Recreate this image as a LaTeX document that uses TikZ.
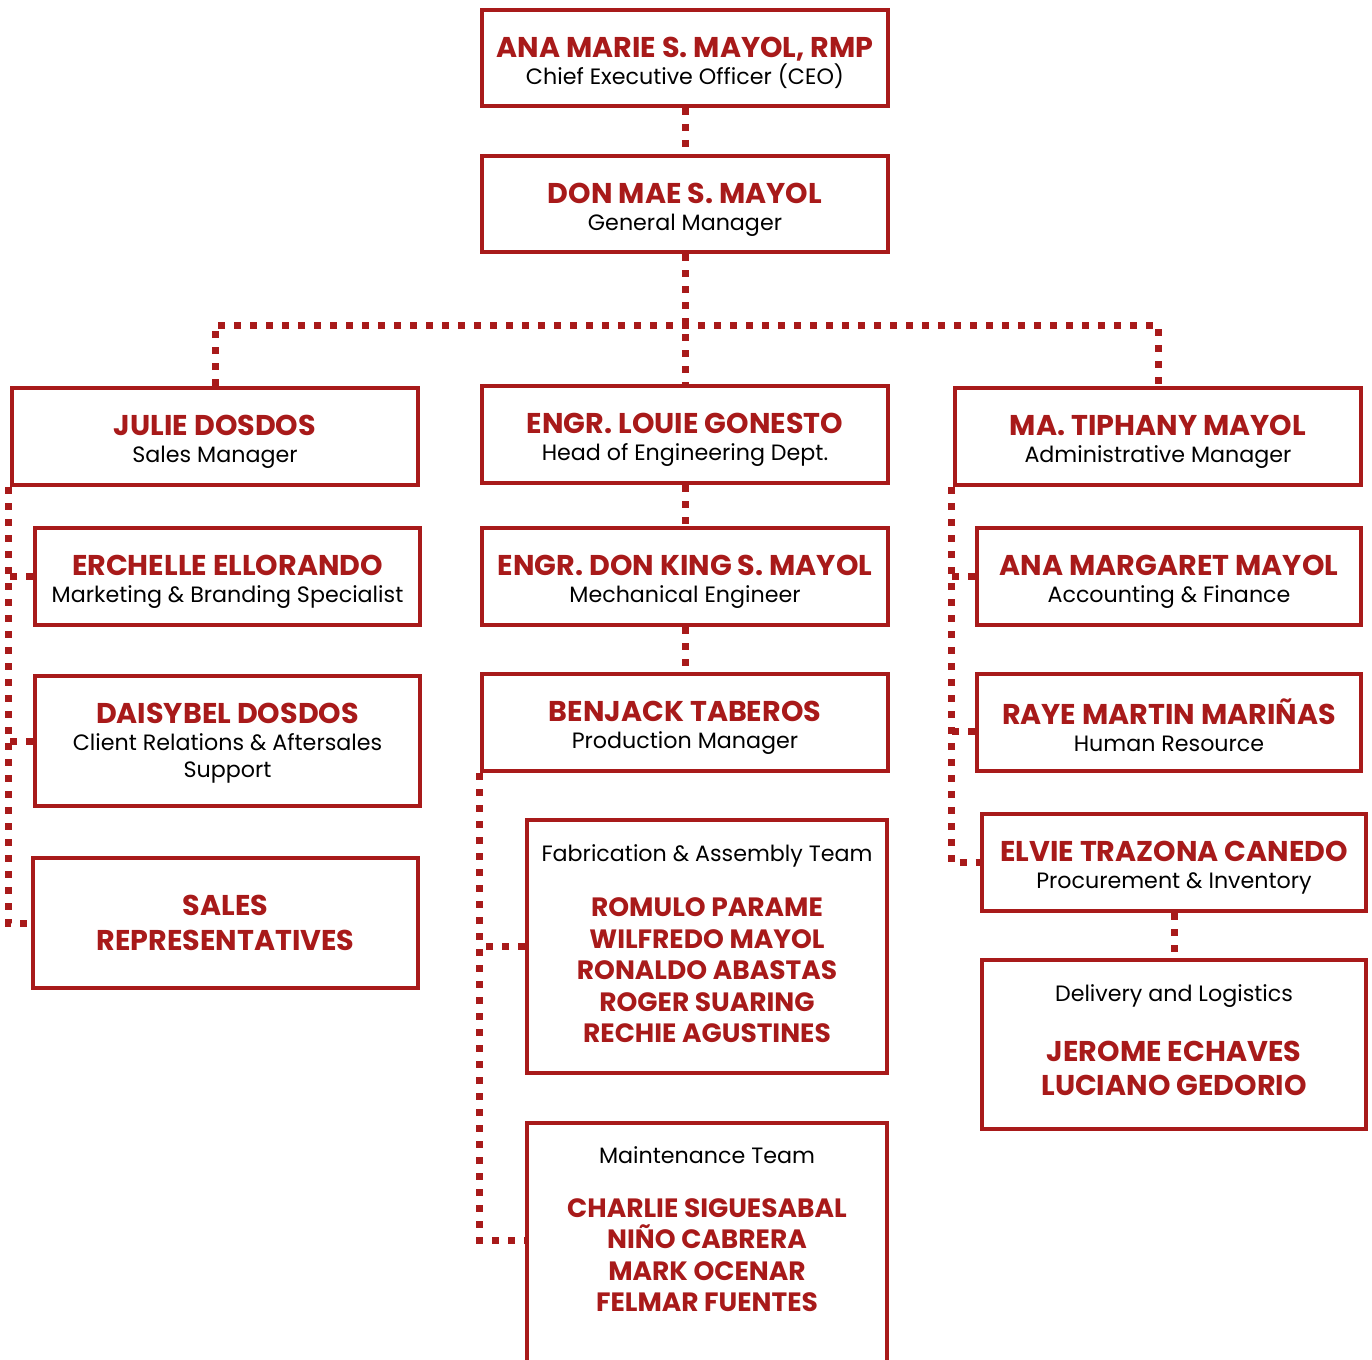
\documentclass[tikz,border=0pt]{standalone}
\usepackage{fontspec}
\setmainfont{Poppins}
\usetikzlibrary{positioning}
\definecolor{maroon}{RGB}{168,26,26}

\newcommand{\namefont}{\fontsize{28.6}{27}\selectfont\bfseries\color{maroon}}
\newcommand{\teamfont}{\fontsize{26.5}{27}\selectfont\bfseries\color{maroon}}
\newcommand{\rolefont}{\fontsize{22.2}{27}\selectfont}
\newcommand{\who}[2]{{\rule{0pt}{31pt}\namefont #1}\\{#2}}

\begin{document}
\begin{tikzpicture}[x=1pt,y=-1pt,
        box/.style={draw=maroon,line width=4pt,align=center,inner sep=0pt,
                    font=\rolefont,minimum width=406pt,minimum height=97pt},
        subbox/.style={box,minimum width=385pt},
        link/.style={draw=maroon,line width=7pt,dash pattern=on 7pt off 9pt}]

  \useasboundingbox (0,0) rectangle (1372,1359);
  \clip (0,0) rectangle (1372,1359);

  % top of the chart
  \node[box,minimum height=96pt] (ceo) at (685,58) {\who{ANA MARIE S. MAYOL, RMP}{Chief Executive Officer (CEO)}};
  \node[box,minimum height=96pt] (gm) at (685,204) {\who{DON MAE S. MAYOL}{General Manager}};

  % department heads
  \node[box] (sales) at (215,436.5) {\who{JULIE DOSDOS}{Sales Manager}};
  \node[box] (eng) at (685,434.5) {\who{ENGR. LOUIE GONESTO}{Head of Engineering Dept.}};
  \node[box] (admin) at (1158,436.5) {\who{MA. TIPHANY MAYOL}{Administrative Manager}};

  % sales
  \node[subbox] (mkt) at (227.5,576.5) {\who{ERCHELLE ELLORANDO}{Marketing \& Branding Specialist}};
  \node[subbox,minimum height=130pt] (crs) at (227.5,741)
    {{\rule{0pt}{24pt}\namefont DAISYBEL DOSDOS}\\Client Relations \& Aftersales\\Support};
  \node[subbox,minimum height=130pt] (reps) at (225.5,923) {{\namefont SALES}\\[8pt]{\namefont REPRESENTATIVES}};

  % engineering
  \node[box] (mech) at (685,576.5) {\who{ENGR. DON KING S. MAYOL}{Mechanical Engineer}};
  \node[box] (prod) at (685,722.5) {\who{BENJACK TABEROS}{Production Manager}};
  \node[box,minimum width=360pt,minimum height=253pt] (fab) at (707,946.5)
    {Fabrication \& Assembly Team\\[28pt]
     {\teamfont ROMULO PARAME}\\[4.5pt]{\teamfont WILFREDO MAYOL}\\[4.5pt]{\teamfont RONALDO ABASTAS}\\[4.5pt]
     {\teamfont ROGER SUARING}\\[4.5pt]{\teamfont RECHIE AGUSTINES\rule[-5pt]{0pt}{0pt}}};
  \node[box,minimum width=360pt,minimum height=300pt,anchor=north] (maint) at (707,1121) {};
  \node[align=center,inner sep=0pt,font=\rolefont,below=25pt of maint.north] (mainttxt)
    {Maintenance Team\\[27pt]
     {\teamfont CHARLIE SIGUESABAL}\\[4.5pt]{\teamfont NIÑO CABRERA}\\[4.5pt]{\teamfont MARK OCENAR}\\[4.5pt]
     {\teamfont FELMAR FUENTES}};

  % administration
  \node[subbox,minimum width=384pt] (acct) at (1169,576.5) {\who{ANA MARGARET MAYOL}{Accounting \& Finance}};
  \node[subbox,minimum width=384pt] (hr) at (1169,722.5) {\who{RAYE MARTIN MARIÑAS}{Human Resource}};
  \node[subbox,minimum width=384pt] (proc) at (1174,862.5) {\who{ELVIE TRAZONA CANEDO}{Procurement \& Inventory}};
  \node[subbox,minimum width=384pt,minimum height=169pt] (deliv) at (1174,1044.5)
    {Delivery and Logistics\\[33pt]
     {\namefont JEROME ECHAVES}\\[7pt]{\namefont LUCIANO GEDORIO\rule[-8pt]{0pt}{0pt}}};

  \coordinate (bus) at (685,325);
  \coordinate (lft) at ([xshift=-2pt]sales.south west);
  \coordinate (mid) at ([xshift=-1pt]prod.south west);
  \coordinate (rgt) at ([xshift=-2pt]admin.south west);

  \draw[link] (ceo) -- (gm);
  \draw[link] (gm) -- (eng);
  \draw[link] (sales.north) |- (bus) -| (admin.north);
  \draw[link] (eng) -- (mech);
  \draw[link] (mech) -- (prod);
  \draw[link] (proc) -- (deliv);

  \draw[link] (lft) |- (reps.west);
  \draw[link] (mkt.west) -- (mkt.west -| lft);
  \draw[link] (crs.west) -- (crs.west -| lft);

  \draw[link] (mid) |- ([yshift=-119pt]maint.north west);
  \draw[link] (fab.west) -- (fab.west -| mid);

  \draw[link] (rgt) |- (proc.west);
  \draw[link] (acct.west) -- (acct.west -| rgt);
  \draw[link] ([yshift=-9pt]hr.west) -- ([yshift=-9pt]hr.west -| rgt);

\end{tikzpicture}
\end{document}
